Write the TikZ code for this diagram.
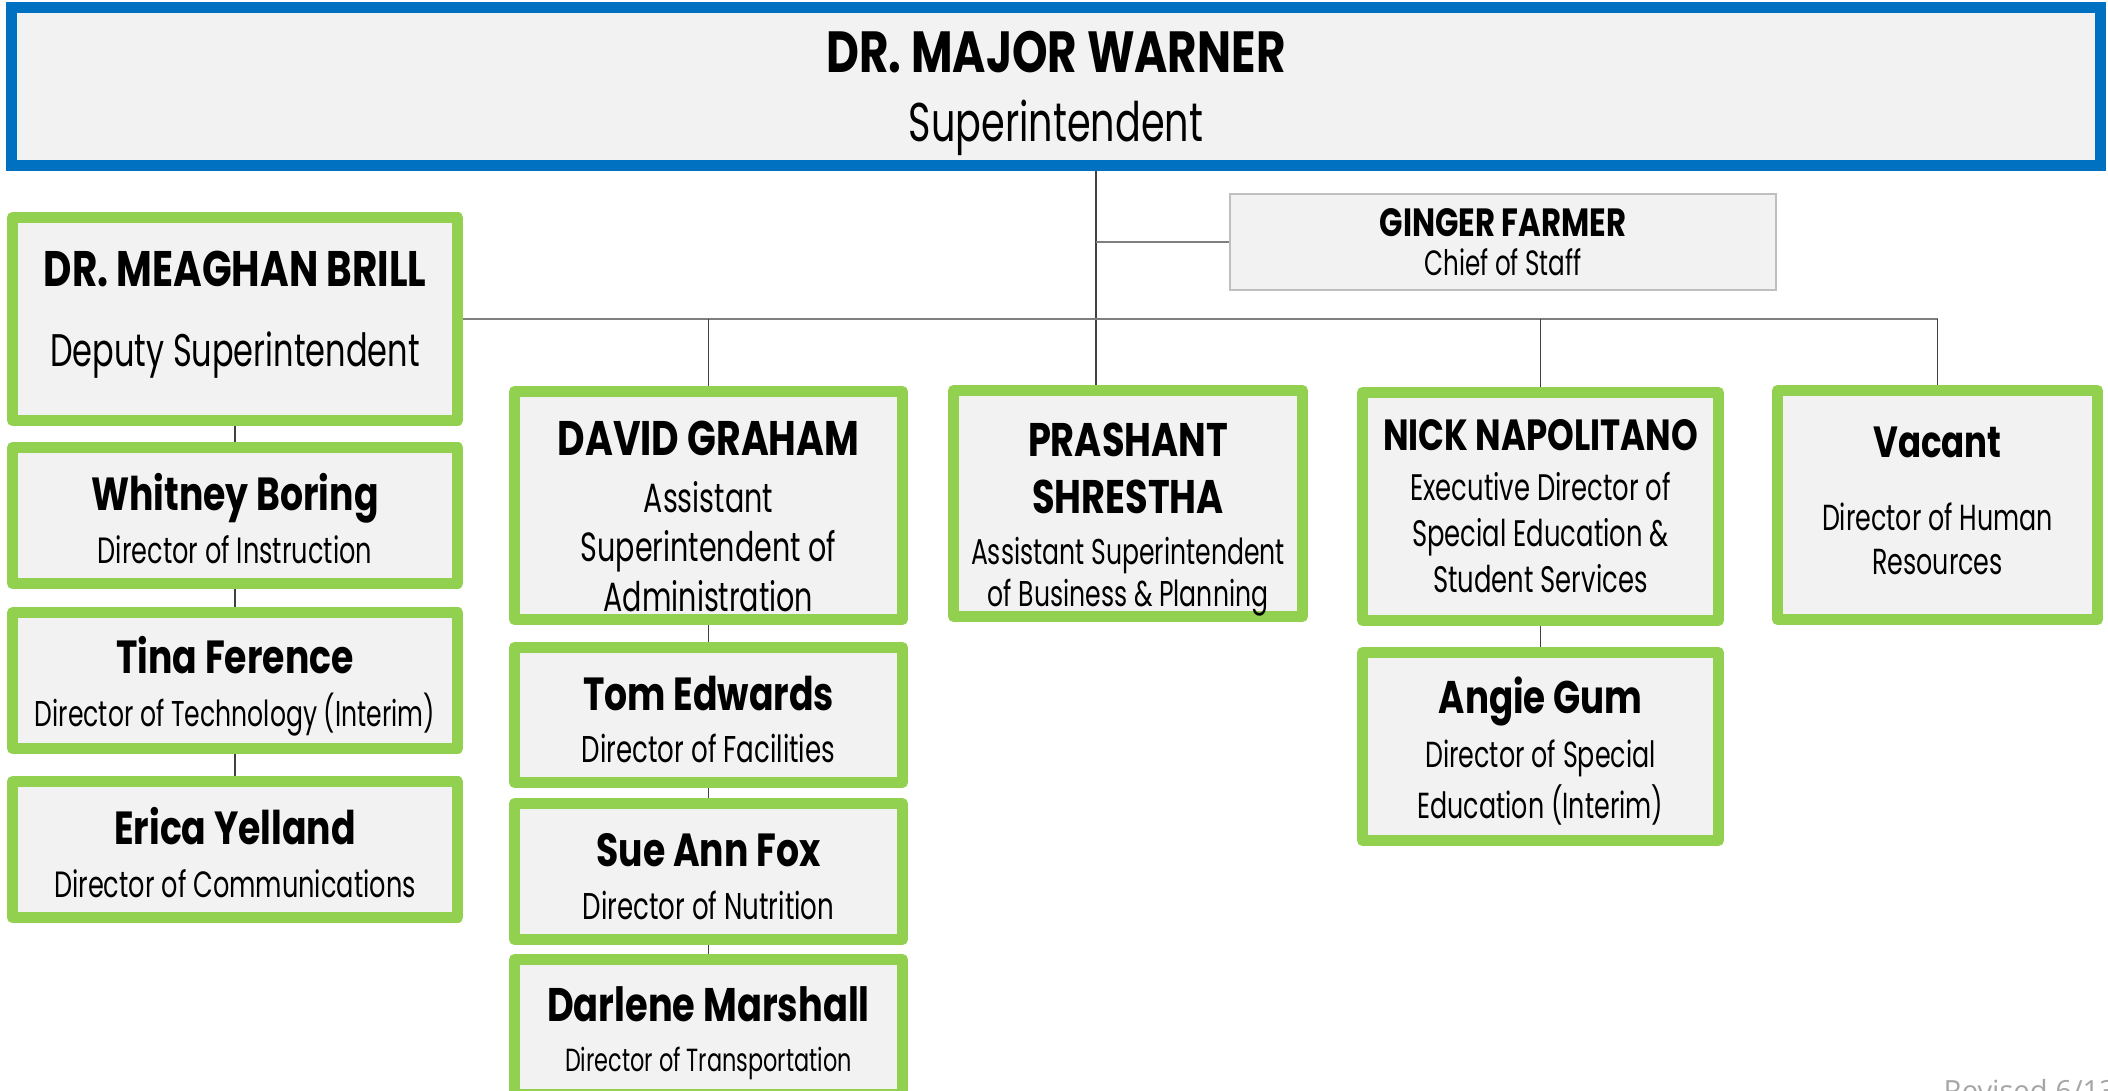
\documentclass[tikz,border=0pt]{standalone}
\usepackage{fontspec}
\setmainfont{Poppins}[FakeStretch=0.70]
\newfontfamily\boldfam{Poppins}[FakeStretch=0.78]
\newfontfamily\notefam{Open Sans}
\definecolor{supblue}{HTML}{0070C0}
\definecolor{leafgreen}{HTML}{92D050}
\definecolor{boxfill}{HTML}{F2F2F2}
\definecolor{rulegray}{HTML}{7F7F7F}
\definecolor{edgegray}{HTML}{BFBFBF}
\newcommand{\nm}[2]{{\boldfam\bfseries\fontsize{#1}{#1}\selectfont #2}}

\begin{document}
\begin{tikzpicture}[x=0.01cm, y=-0.01cm,
    boss/.style={draw=supblue, line width=3.1pt, fill=boxfill, inner sep=0pt, align=center,
        minimum width=20.87cm, minimum height=1.58cm},
    staff/.style={draw=leafgreen, line width=3.1pt, line join=round, fill=boxfill, inner sep=0pt, align=center},
    small/.style={staff, minimum height=1.36cm, font=\fontsize{10.4}{15}\selectfont, text height=27.3pt, text depth=0pt},
    chief/.style={draw=edgegray, line width=0.5pt, fill=boxfill, inner sep=0pt, align=center,
        minimum width=5.46cm, minimum height=0.96cm},
    bus/.style={rulegray, line width=0.6pt},
    drop/.style={black!75, line width=0.35pt}]

    \useasboundingbox (0,0) rectangle (2108,1091);
    \clip (0,0) rectangle (2108,1091);

    \node[boss, font=\fontsize{15.5}{19.6}\selectfont, text height=35.2pt, text depth=3.7pt] (boss) at (1056,86.5) {\nm{16.5}{DR. MAJOR WARNER}\\ Superintendent};
    \node[chief, font=\fontsize{10}{11.1}\selectfont] (gin) at (1503,242) {\nm{11.2}{GINGER FARMER}\\ Chief of Staff};

    % deputy column
    \node[staff, minimum width=4.45cm, minimum height=2.03cm, font=\fontsize{13}{22.8}\selectfont, text height=27pt, text depth=0pt] (dep) at (235,319) {\nm{14.2}{DR. MEAGHAN BRILL}\\ Deputy Superintendent};
    \node[small, minimum width=4.45cm] (whi) at (235,515.5) {\nm{13.2}{Whitney Boring}\\ Director of Instruction};
    \node[small, minimum width=4.45cm, font=\fontsize{10.2}{15}\selectfont, text height=26.3pt] (tin) at (235,680.5) {\nm{13.2}{Tina Ference}\\ Director of Technology (Interim)};
    \node[small, minimum width=4.45cm] (eri) at (235,849.5) {\nm{13.2}{Erica Yelland}\\ Director of Communications};

    % administration column
    \node[staff, minimum width=3.88cm, minimum height=2.28cm, font=\fontsize{11.6}{14.2}\selectfont, text height=60.5pt, text depth=0pt] (dav) at (708.5,505.5) {\nm{13.8}{DAVID GRAHAM}\\[2pt] Assistant\\ Superintendent of\\ Administration};
    \node[small, minimum width=3.88cm, minimum height=1.35cm, font=\fontsize{10.6}{14.8}\selectfont, text height=27pt] (tom) at (708.5,715) {\nm{13.2}{Tom Edwards}\\ Director of Facilities};
    \node[small, minimum width=3.88cm, font=\fontsize{10.6}{15}\selectfont] (sue) at (708.5,871.5) {\nm{13.2}{Sue Ann Fox}\\ Director of Nutrition};
    \node[small, minimum width=3.88cm, minimum height=1.35cm, font=\fontsize{9.1}{14.2}\selectfont, text height=25.3pt] (dar) at (708.5,1027) {\nm{13.4}{Darlene Marshall}\\ Director of Transportation};

    \node[staff, minimum width=3.49cm, minimum height=2.26cm, font=\fontsize{10.2}{12}\selectfont, text height=58.6pt, text depth=0pt] (pras) at (1128,503.5) {\nm{13.4}{PRASHANT}\\[4.2pt] \nm{13.4}{SHRESTHA}\\[2.5pt] Assistant Superintendent\\ of Business \& Planning};

    % special education column
    \node[staff, minimum width=3.56cm, minimum height=2.28cm, font=\fontsize{10.5}{13.1}\selectfont] (nick) at (1540.5,506.5) {\nm{12.4}{NICK NAPOLITANO}\\[1.1pt] Executive Director of\\ Special Education \&\\ Student Services};
    \node[staff, minimum width=3.56cm, minimum height=1.88cm, font=\fontsize{10.3}{14.5}\selectfont, text height=41.1pt, text depth=0pt] (ang) at (1540.5,746.5) {\nm{13}{Angie Gum}\\[0.9pt] Director of Special\\ Education (Interim)};

    \node[staff, minimum width=3.20cm, minimum height=2.29cm, font=\fontsize{10.3}{12.5}\selectfont, text height=39.7pt, text depth=0pt] (vac) at (1937.5,505) {\nm{12.4}{Vacant}\\[8.5pt] Director of Human\\ Resources};

    \node[anchor=base west, inner sep=0pt, text=black!35, font=\notefam\fontsize{8.3}{10}\selectfont] (rev) at (1943,1101) {Revised 6/13};

    % connectors
    \coordinate (trunk) at (1096,317);
    \draw[drop] (boss.south -| trunk) -- (pras.north -| trunk);
    \draw[bus] (gin.west -| trunk) -- (gin.west);
    \draw[bus] (dep.east) -- (dep.east -| vac.north);
    \foreach \n in {dav, nick, vac}
        \draw[drop] (dep.east -| \n.north) -- (\n.north);
    \foreach \a/\b in {dep/whi, whi/tin, tin/eri, dav/tom, tom/sue, sue/dar, nick/ang}
        \draw[drop] (\a.south) -- (\b.north);
\end{tikzpicture}
\end{document}
